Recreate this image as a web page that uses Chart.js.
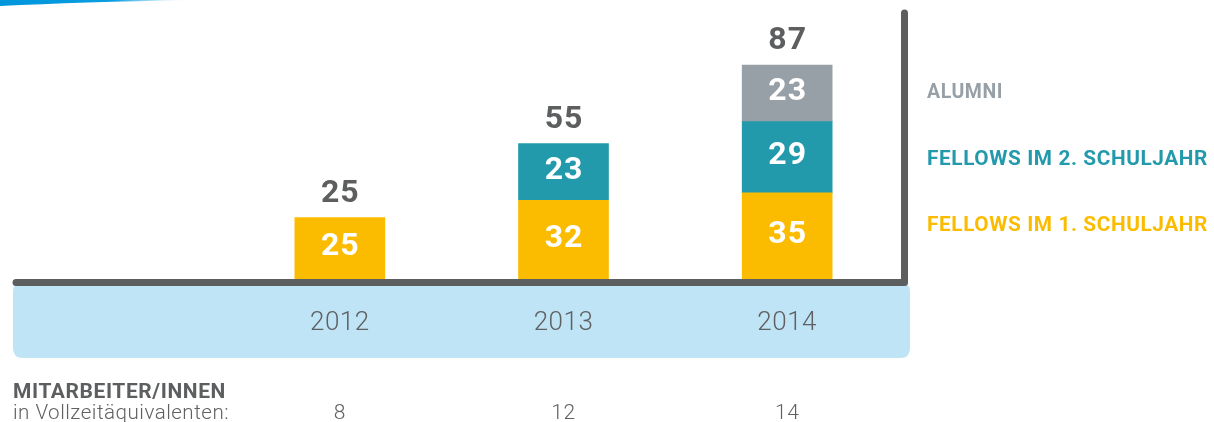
<!DOCTYPE html>
<html>
<head>
<meta charset="utf-8">
<script src="https://cdn.jsdelivr.net/npm/chart.js@4/dist/chart.umd.min.js"></script>
<style>
  html, body { margin: 0; padding: 0; background: #fff; }
  #wrap { width: 1214px; height: 422px; }
</style>
</head>
<body>
<div id="wrap"><canvas id="myChart" width="1214" height="422"></canvas></div>
<script>
// years on the x axis
const years = ['2012', '2013', '2014'];

// stacked segments, bottom to top
const fellows1 = [25, 32, 35];
const fellows2 = [null, 23, 29];
const alumni = [null, null, 23];

// staff in full-time equivalents, one per year
const staff = [8, 12, 14];

const labelFellows1 = 'FELLOWS IM 1. SCHULJAHR';
const labelFellows2 = 'FELLOWS IM 2. SCHULJAHR';
const labelAlumni = 'ALUMNI';

const GOLD = '#fbbc00';
const TEAL = '#229aab';
const GREY = '#96a0a6';
const DARK = '#5c5e5f';
const BAND = '#bfe4f6';

function roundRect(ctx, x, y, w, h, r) {
    ctx.beginPath();
    ctx.moveTo(x + r, y);
    ctx.lineTo(x + w - r, y);
    ctx.quadraticCurveTo(x + w, y, x + w, y + r);
    ctx.lineTo(x + w, y + h - r);
    ctx.quadraticCurveTo(x + w, y + h, x + w - r, y + h);
    ctx.lineTo(x + r, y + h);
    ctx.quadraticCurveTo(x, y + h, x, y + h - r);
    ctx.lineTo(x, y + r);
    ctx.quadraticCurveTo(x, y, x + r, y);
    ctx.closePath();
}

// background band, axis frame and the little blue swoosh
const framePlugin = {
    id: 'frame',
    beforeDatasetsDraw(chart) {
        const ctx = chart.ctx;
        const area = chart.chartArea;
        ctx.save();

        // swoosh top left
        const g = ctx.createLinearGradient(0, 0, 190, 0);
        g.addColorStop(0, '#0096db');
        g.addColorStop(0.6, '#0a9de0');
        g.addColorStop(1, 'rgba(120,200,240,0)');
        ctx.fillStyle = g;
        ctx.beginPath();
        ctx.moveTo(0, 0);
        ctx.lineTo(190, 0);
        ctx.quadraticCurveTo(80, 2, 0, 6);
        ctx.closePath();
        ctx.fill();

        // light blue band under the axis
        ctx.fillStyle = BAND;
        roundRect(ctx, 13, area.bottom + 3, 897, 76, 10);
        ctx.fill();

        ctx.restore();
    },
    afterDatasetsDraw(chart) {
        const ctx = chart.ctx;
        const area = chart.chartArea;
        ctx.save();
        ctx.strokeStyle = DARK;
        ctx.lineWidth = 7;
        ctx.lineCap = 'round';
        ctx.lineJoin = 'round';
        ctx.beginPath();
        ctx.moveTo(16, area.bottom + 3.5);
        ctx.lineTo(904.5, area.bottom + 3.5);
        ctx.lineTo(904.5, 13);
        ctx.stroke();
        ctx.restore();
    }
};

// numbers inside the bars, totals on top, legend, years and staff row
const labelsPlugin = {
    id: 'labels',
    afterDraw(chart) {
        const ctx = chart.ctx;
        const xScale = chart.scales.x;
        ctx.save();
        ctx.textAlign = 'center';
        ctx.textBaseline = 'middle';
        ctx.letterSpacing = '1px';

        const tops = years.map(() => chart.chartArea.bottom);
        const totals = years.map(() => 0);
        chart.data.datasets.forEach((ds, i) => {
            const meta = chart.getDatasetMeta(i);
            meta.data.forEach((bar, j) => {
                const v = ds.data[j];
                if (v == null) return;
                totals[j] += v;
                tops[j] = Math.min(tops[j], bar.y);
                ctx.fillStyle = '#fff';
                ctx.font = 'bold 32px Roboto';
                ctx.fillText(String(v), bar.x + 0.5, (bar.y + bar.base) / 2 - 1);
            });
        });

        ctx.fillStyle = DARK;
        ctx.font = 'bold 32px Roboto';
        years.forEach((y, j) => {
            ctx.fillText(String(totals[j]), xScale.getPixelForValue(j) + 0.5, tops[j] - 24);
        });

        // year labels
        ctx.letterSpacing = '0.5px';
        ctx.fillStyle = '#5f6163';
        ctx.font = '300 26px Roboto';
        years.forEach((y, j) => {
            ctx.fillText(y, xScale.getPixelForValue(j), 323);
        });

        // staff row
        ctx.textBaseline = 'alphabetic';
        ctx.font = '300 21px Roboto';
        staff.forEach((s, j) => {
            ctx.fillText(String(s), xScale.getPixelForValue(j), 419);
        });
        ctx.textAlign = 'left';
        ctx.fillText('in Vollzeitäquivalenten:', 13, 419, 216);
        ctx.letterSpacing = '0.6px';
        ctx.fillStyle = DARK;
        ctx.font = 'bold 21px Roboto';
        ctx.fillText('MITARBEITER/INNEN', 13, 398, 213);

        // legend, top segment first
        const legendY = [98, 165, 231];
        const items = chart.data.datasets.slice().reverse();
        items.forEach((ds, k) => {
            ctx.fillStyle = ds.backgroundColor;
            ctx.font = 'bold 21px Roboto';
            ctx.fillText(ds.label, 927, legendY[k], ds.label.length > 10 ? 281 : 76);
        });
        ctx.restore();
    }
};

const ctx = document.getElementById('myChart').getContext('2d');
const myChart = new Chart(ctx, {
    type: 'bar',
    data: {
        labels: years,
        datasets: [
            { label: labelFellows1, data: fellows1, backgroundColor: GOLD },
            { label: labelFellows2, data: fellows2, backgroundColor: TEAL },
            { label: labelAlumni, data: alumni, backgroundColor: GREY }
        ]
    },
    options: {
        responsive: false,
        animation: false,
        layout: {
            padding: { left: 228, right: 315, top: 33, bottom: 143 }
        },
        datasets: {
            bar: { barThickness: 90, borderWidth: 0 }
        },
        scales: {
            x: { stacked: true, display: false },
            y: { stacked: true, display: false, min: 0, max: 100 }
        },
        plugins: {
            legend: { display: false },
            tooltip: { enabled: false }
        }
    },
    plugins: [framePlugin, labelsPlugin]
});
</script>
</body>
</html>
